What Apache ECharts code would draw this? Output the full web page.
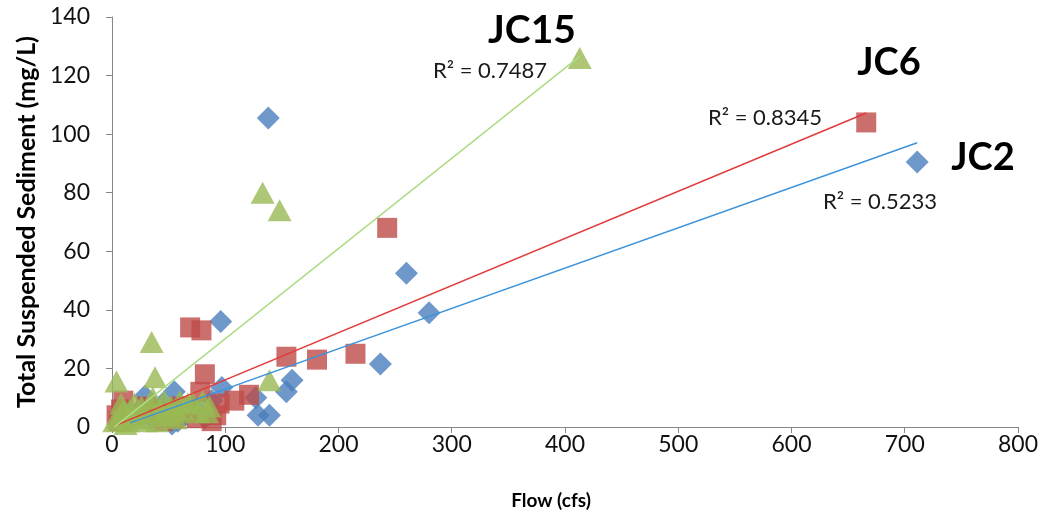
<!DOCTYPE html>
<html>
<head>
<meta charset="utf-8">
<script src="https://cdn.jsdelivr.net/npm/echarts@6/dist/echarts.min.js"></script>
<style>
html,body{margin:0;padding:0;background:#fff;}
#chart{width:1041px;height:519px;}
</style>
</head>
<body>
<div id="chart"></div>
<script>
// ---- data (Flow cfs, TSS mg/L) ----
const jc2 = [[711,90.5],[138,105.5],[280,39],[260,52.5],[237,21.5],[96,36],[159,16],[154,12],[129,4],[139,4],[97,13.5],[127,10],[55,12],[29,10.5],[53,1],[58,2],[82,3],[16,2],[22,5],[40,6],[45,8],[65,4],[72,7],[35,3],[88,9]];
const jc6 = [[666,104],[243,68],[215,25],[181,23],[154,24],[69,34],[79,33],[82,18],[78,12],[121,11],[108,9],[95,8],[92,4],[4,4],[10,9],[6,2],[8,6],[20,4],[30,7],[40,5],[45,2],[55,3],[60,7],[65,5],[75,3],[88,2]];
const jc15 = [[413,126],[133,80],[148,74],[139,16],[35,29],[38,17],[4,15.5],[6,3],[10,6],[14,2],[18,4],[22,3],[26,7],[30,2],[42,6],[46,9],[50,4],[56,3],[62,6],[67,8],[71,8.5],[80,9],[84,5],[12,1],[40,2],[86,7],[2,2],[8,8],[16,6],[20,8],[28,5],[33,8],[45,4],[52,7],[58,5],[76,5],[60,9],[36,10]];

// linear trendline coefficients [slope, intercept] and R²
const trendJC2 = [0.1376, -0.8];
const trendJC6 = [0.161, 0.0];
const trendJC15 = [0.308, -0.66];
const r2Labels = ['R² = 0.5233', 'R² = 0.8345', 'R² = 0.7487'];
const seriesNames = ['JC2', 'JC6', 'JC15'];
const xTicks = {min: 0, max: 800, interval: 100};
const yTicks = {min: 0, max: 140, interval: 20};

function trend(data, coef) {
  const xs = data.map(d => d[0]);
  const x0 = Math.min(...xs), x1 = Math.max(...xs);
  return [[x0, coef[0]*x0 + coef[1]], [x1, coef[0]*x1 + coef[1]]];
}

const FONT = 'Lato, "Open Sans", sans-serif';
const chart = echarts.init(document.getElementById('chart'), null, {renderer: 'canvas'});
const axisColor = '#868686';

const option = {
  animation: false,
  backgroundColor: '#ffffff',
  grid: {left: 112, right: 22, top: 17, bottom: 92, containLabel: false},
  xAxis: {
    type: 'value', min: xTicks.min, max: xTicks.max, interval: xTicks.interval,
    name: 'Flow (cfs)', nameLocation: 'middle', nameGap: 64,
    nameTextStyle: {fontFamily: FONT, fontWeight: 'bold', fontSize: 19, color: '#000', padding: [0, 28, 0, 0]},
    axisLine: {show: true, onZero: false, lineStyle: {color: axisColor, width: 1}},
    axisTick: {show: true, inside: false, length: 6, lineStyle: {color: axisColor}},
    axisLabel: {fontFamily: FONT, fontSize: 23, color: '#111', margin: 6},
    splitLine: {show: false}
  },
  yAxis: {
    type: 'value', min: yTicks.min, max: yTicks.max, interval: yTicks.interval,
    name: 'Total Suspended Sediment (mg/L)', nameLocation: 'middle', nameGap: 67, nameRotate: 90,
    nameTextStyle: {fontFamily: FONT, fontWeight: 'bold', fontSize: 25, color: '#000'},
    axisLine: {show: true, onZero: false, lineStyle: {color: axisColor, width: 1}},
    axisTick: {show: true, inside: false, length: 6, lineStyle: {color: axisColor}},
    axisLabel: {fontFamily: FONT, fontSize: 23, color: '#111', margin: 22},
    splitLine: {show: false}
  },
  series: [
    {name: seriesNames[0], type: 'scatter', data: jc2, symbol: 'diamond', symbolSize: 23,
     itemStyle: {color: '#4A7EBB'}, z: 2},
    {name: seriesNames[1], type: 'scatter', data: jc6, symbol: 'rect', symbolSize: 20,
     itemStyle: {color: '#BE4B48'}, z: 3},
    {name: seriesNames[2], type: 'scatter', data: jc15, symbol: 'triangle', symbolSize: [24, 22],
     itemStyle: {color: '#98B954'}, z: 4},
    {type: 'line', data: trend(jc2, trendJC2), symbol: 'none', z: 5,
     lineStyle: {color: '#3D93DA', width: 1.5}},
    {type: 'line', data: trend(jc6, trendJC6), symbol: 'none', z: 5,
     lineStyle: {color: '#E23A3A', width: 1.5}},
    {type: 'line', data: trend(jc15, trendJC15), symbol: 'none', z: 5,
     lineStyle: {color: '#AEDB86', width: 1.5}}
  ],
  graphic: [
    {type: 'text', x: 532, y: 30, style: {text: seriesNames[2], font: 'bold 39px ' + FONT, fill: '#000', align: 'center', verticalAlign: 'middle'}},
    {type: 'text', x: 889, y: 63, style: {text: seriesNames[1], font: 'bold 38px ' + FONT, fill: '#000', align: 'center', verticalAlign: 'middle'}},
    {type: 'text', x: 983, y: 158, style: {text: seriesNames[0], font: 'bold 38px ' + FONT, fill: '#000', align: 'center', verticalAlign: 'middle'}},
    {type: 'text', x: 490, y: 71, style: {text: r2Labels[2], font: '22px ' + FONT, fill: '#1a1a1a', align: 'center', verticalAlign: 'middle'}},
    {type: 'text', x: 765, y: 118, style: {text: r2Labels[1], font: '22px ' + FONT, fill: '#1a1a1a', align: 'center', verticalAlign: 'middle'}},
    {type: 'text', x: 880, y: 202, style: {text: r2Labels[0], font: '22px ' + FONT, fill: '#1a1a1a', align: 'center', verticalAlign: 'middle'}}
  ]
};
chart.setOption(option);
</script>
</body>
</html>
